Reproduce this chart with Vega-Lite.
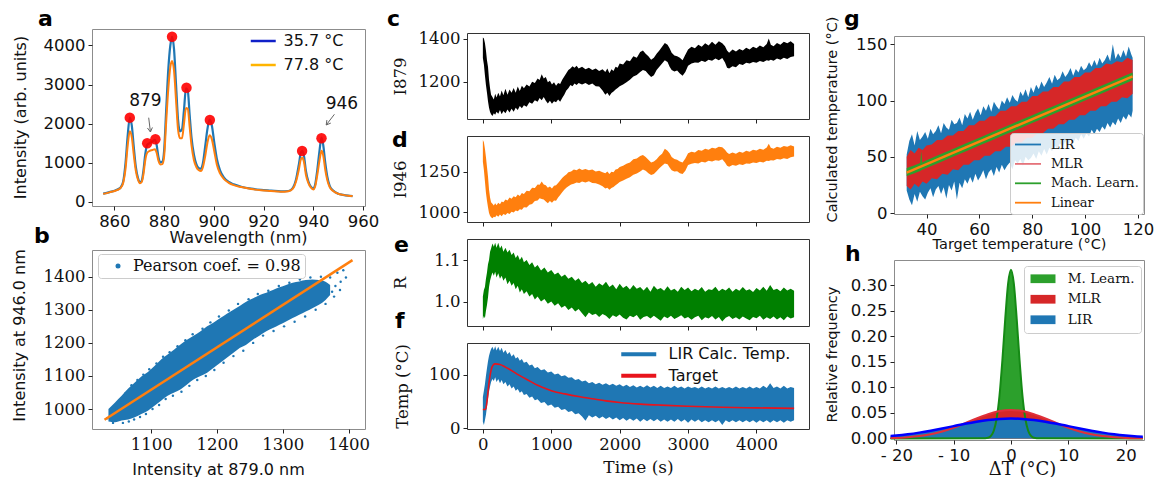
{
"$schema": "https://vega.github.io/schema/vega-lite/v6.json",
"background": "white",
"padding": {"left": 10, "top": 6, "right": 0, "bottom": 0},
"config": {
  "font": "DejaVu Sans",
  "numberFormat": "d",
  "view": {"stroke": "#8c8c8c"},
  "axis": {"grid": false, "domain": false, "tickColor": "#222", "tickSize": 4, "tickWidth": 1, "labelPadding": 3, "labelFontSize": 16.5, "labelColor": "#111", "titleColor": "#111", "titleFontWeight": "normal", "titleFontSize": 16, "labelFont": "DejaVu Sans", "titleFont": "DejaVu Sans", "labelOverlap": false, "labelFlush": false, "titleBaseline": "middle"},
  "legend": {"title": null, "orient": "none", "labelColor": "#111", "padding": 0, "labelLimit": 0},
  "title": {"font": "DejaVu Sans", "fontSize": 22, "fontWeight": "bold", "anchor": "start", "frame": "group", "offset": 0, "baseline": "alphabetic", "color": "#000"}
},
"datasets": {
"spacer": [{"k": 1}],
"aspec": [
{"wl":855.5,"b":200,"o":195},{"wl":858,"b":240,"o":235},{"wl":861,"b":300,"o":290},{"wl":862.5,"b":360,"o":350},{"wl":863.5,"b":500,"o":470},{"wl":864.5,"b":1000,"o":850},{"wl":865.3,"b":1650,"o":1400},{"wl":866.2,"b":2150,"o":1800},{"wl":867,"b":1950,"o":1650},{"wl":867.8,"b":1400,"o":1200},{"wl":868.6,"b":900,"o":800},{"wl":869.5,"b":600,"o":560},{"wl":870.3,"b":490,"o":470},{"wl":871,"b":530,"o":500},{"wl":871.7,"b":800,"o":700},{"wl":872.4,"b":1200,"o":1050},{"wl":873.2,"b":1450,"o":1250},{"wl":874.2,"b":1500,"o":1300},{"wl":875.3,"b":1540,"o":1320},{"wl":876.3,"b":1580,"o":1340},{"wl":877,"b":1450,"o":1250},{"wl":877.7,"b":1150,"o":1050},{"wl":878.5,"b":1000,"o":950},{"wl":879.3,"b":1020,"o":960},{"wl":880,"b":1300,"o":1150},{"wl":880.8,"b":2300,"o":2000},{"wl":881.7,"b":3400,"o":2900},{"wl":882.5,"b":4000,"o":3450},{"wl":883.2,"b":4220,"o":3600},{"wl":884,"b":3900,"o":3350},{"wl":884.8,"b":3000,"o":2600},{"wl":885.6,"b":2100,"o":1850},{"wl":886.4,"b":1800,"o":1620},{"wl":887.2,"b":1850,"o":1620},{"wl":888,"b":2350,"o":2000},{"wl":888.8,"b":2900,"o":2400},{"wl":889.5,"b":2850,"o":2380},{"wl":890.3,"b":2200,"o":1900},{"wl":891,"b":1650,"o":1450},{"wl":892,"b":1200,"o":1060},{"wl":893,"b":950,"o":880},{"wl":894,"b":850,"o":800},{"wl":894.8,"b":840,"o":780},{"wl":895.6,"b":980,"o":880},{"wl":896.5,"b":1400,"o":1150},{"wl":897.4,"b":1850,"o":1500},{"wl":898.3,"b":2100,"o":1700},{"wl":899.2,"b":1950,"o":1600},{"wl":900.2,"b":1500,"o":1280},{"wl":901.2,"b":1100,"o":950},{"wl":902.5,"b":800,"o":720},{"wl":904,"b":620,"o":580},{"wl":906,"b":500,"o":480},{"wl":908,"b":440,"o":420},{"wl":911,"b":380,"o":370},{"wl":915,"b":330,"o":320},{"wl":919,"b":300,"o":290},{"wl":923,"b":280,"o":270},{"wl":927,"b":260,"o":250},{"wl":930,"b":270,"o":265},{"wl":931.8,"b":350,"o":330},{"wl":933,"b":550,"o":500},{"wl":934.2,"b":950,"o":820},{"wl":935,"b":1250,"o":1080},{"wl":935.6,"b":1300,"o":1120},{"wl":936.3,"b":1150,"o":1000},{"wl":937,"b":800,"o":700},{"wl":938,"b":520,"o":480},{"wl":939,"b":380,"o":360},{"wl":940,"b":330,"o":310},{"wl":940.8,"b":450,"o":400},{"wl":941.6,"b":800,"o":680},{"wl":942.5,"b":1300,"o":1050},{"wl":943.3,"b":1640,"o":1300},{"wl":944,"b":1450,"o":1180},{"wl":944.8,"b":1000,"o":820},{"wl":945.6,"b":650,"o":560},{"wl":946.6,"b":400,"o":370},{"wl":948,"b":280,"o":270},{"wl":950,"b":200,"o":200},{"wl":952,"b":170,"o":170},{"wl":954,"b":150,"o":150},{"wl":955.8,"b":140,"o":140}
],
"adots": [{"wl":866.2,"I":2150},{"wl":873.2,"I":1492},{"wl":876.5,"I":1595},{"wl":883.2,"I":4226},{"wl":889.0,"I":2918},{"wl":898.4,"I":2090},{"wl":935.5,"I":1295},{"wl":943.3,"I":1620}],
"alabels": [{"wl":872.5,"I":2577,"t":"879"},{"wl":951.5,"I":2492,"t":"946"}],
"aarrows": [{"x":873.8,"y":2149,"x2":874.5,"y2":1782},{"x":874.5,"y":1782,"x2":875.3,"y2":1899},{"x":874.5,"y":1782,"x2":873.3,"y2":1885},{"x":948.5,"y":2236,"x2":945.2,"y2":1962},{"x":945.2,"y":1962,"x2":947.05,"y2":2011},{"x":945.2,"y":1962,"x2":945.47,"y2":2088}],
"bband": [
{"x":1035,"lo":962,"hi":1000},{"x":1045,"lo":960,"hi":1020},{"x":1055,"lo":965,"hi":1040},{"x":1065,"lo":968,"hi":1062},{"x":1075,"lo":975,"hi":1080},{"x":1085,"lo":985,"hi":1098},{"x":1095,"lo":995,"hi":1112},{"x":1105,"lo":1010,"hi":1130},{"x":1115,"lo":1025,"hi":1150},{"x":1125,"lo":1040,"hi":1165},{"x":1135,"lo":1050,"hi":1180},{"x":1145,"lo":1060,"hi":1196},{"x":1155,"lo":1075,"hi":1210},{"x":1165,"lo":1090,"hi":1222},{"x":1175,"lo":1100,"hi":1235},{"x":1185,"lo":1110,"hi":1250},{"x":1195,"lo":1125,"hi":1262},{"x":1205,"lo":1140,"hi":1275},{"x":1215,"lo":1155,"hi":1288},{"x":1225,"lo":1170,"hi":1300},{"x":1235,"lo":1185,"hi":1312},{"x":1245,"lo":1195,"hi":1325},{"x":1255,"lo":1210,"hi":1335},{"x":1265,"lo":1222,"hi":1345},{"x":1275,"lo":1235,"hi":1352},{"x":1285,"lo":1245,"hi":1360},{"x":1295,"lo":1255,"hi":1368},{"x":1305,"lo":1265,"hi":1375},{"x":1315,"lo":1275,"hi":1382},{"x":1325,"lo":1285,"hi":1386},{"x":1335,"lo":1295,"hi":1390},{"x":1345,"lo":1305,"hi":1392},{"x":1355,"lo":1315,"hi":1390},{"x":1365,"lo":1330,"hi":1385},{"x":1372,"lo":1345,"hi":1375}
],
"bpts": [
{"x":1033,"y":972},{"x":1038,"y":990},{"x":1042,"y":958},{"x":1047,"y":1003},{"x":1050,"y":975},{"x":1053,"y":1020},{"x":1057,"y":958},{"x":1061,"y":1048},{"x":1066,"y":962},{"x":1070,"y":1072},{"x":1074,"y":968},{"x":1079,"y":1088},{"x":1083,"y":976},{"x":1088,"y":1104},{"x":1092,"y":985},{"x":1097,"y":1120},{"x":1102,"y":1000},{"x":1108,"y":1138},{"x":1112,"y":1012},{"x":1118,"y":1158},{"x":1122,"y":1030},{"x":1128,"y":1172},{"x":1133,"y":1040},{"x":1140,"y":1190},{"x":1146,"y":1052},{"x":1152,"y":1208},{"x":1158,"y":1070},{"x":1163,"y":1226},{"x":1170,"y":1088},{"x":1178,"y":1243},{"x":1183,"y":1100},{"x":1190,"y":1262},{"x":1196,"y":1118},{"x":1203,"y":1280},{"x":1210,"y":1140},{"x":1218,"y":1298},{"x":1225,"y":1160},{"x":1232,"y":1318},{"x":1240,"y":1176},{"x":1248,"y":1332},{"x":1255,"y":1200},{"x":1262,"y":1348},{"x":1270,"y":1222},{"x":1278,"y":1358},{"x":1286,"y":1236},{"x":1294,"y":1372},{"x":1302,"y":1250},{"x":1310,"y":1382},{"x":1318,"y":1264},{"x":1326,"y":1392},{"x":1334,"y":1280},{"x":1342,"y":1398},{"x":1350,"y":1300},{"x":1358,"y":1400},{"x":1365,"y":1318},{"x":1372,"y":1398},{"x":1378,"y":1340},{"x":1383,"y":1412},{"x":1388,"y":1385},{"x":1392,"y":1420},{"x":1396,"y":1398},{"x":1387,"y":1360},{"x":1380,"y":1372},{"x":1375,"y":1355}
],
"bline": [{"x":1029,"y":967.7},{"x":1406,"y":1450.5}],
"cband": [
{"t":0,"lo":1310,"hi":1405},{"t":15,"lo":1280,"hi":1400},{"t":30,"lo":1230,"hi":1380},{"t":45,"lo":1185,"hi":1345},{"t":60,"lo":1150,"hi":1300},{"t":75,"lo":1110,"hi":1270},{"t":90,"lo":1080,"hi":1210},{"t":105,"lo":1060,"hi":1170},{"t":120,"lo":1050,"hi":1140},{"t":140,"lo":1042,"hi":1130},{"t":160,"lo":1055,"hi":1118},{"t":180,"lo":1048,"hi":1145},{"t":200,"lo":1062,"hi":1128},{"t":225,"lo":1052,"hi":1150},{"t":250,"lo":1070,"hi":1132},{"t":275,"lo":1050,"hi":1160},{"t":300,"lo":1065,"hi":1138},{"t":330,"lo":1055,"hi":1168},{"t":360,"lo":1072,"hi":1140},{"t":390,"lo":1058,"hi":1165},{"t":420,"lo":1075,"hi":1150},{"t":450,"lo":1062,"hi":1172},{"t":480,"lo":1080,"hi":1150},{"t":510,"lo":1070,"hi":1178},{"t":540,"lo":1088,"hi":1158},{"t":570,"lo":1078,"hi":1182},{"t":600,"lo":1092,"hi":1170},{"t":640,"lo":1085,"hi":1188},{"t":680,"lo":1105,"hi":1178},{"t":720,"lo":1098,"hi":1200},{"t":760,"lo":1115,"hi":1195},{"t":800,"lo":1108,"hi":1215},{"t":830,"lo":1125,"hi":1208},{"t":860,"lo":1115,"hi":1235},{"t":890,"lo":1130,"hi":1215},{"t":920,"lo":1112,"hi":1222},{"t":950,"lo":1100,"hi":1198},{"t":980,"lo":1112,"hi":1205},{"t":1010,"lo":1098,"hi":1188},{"t":1040,"lo":1110,"hi":1198},{"t":1070,"lo":1105,"hi":1182},{"t":1100,"lo":1118,"hi":1195},{"t":1130,"lo":1108,"hi":1190},{"t":1160,"lo":1125,"hi":1210},{"t":1190,"lo":1140,"hi":1225},{"t":1220,"lo":1160,"hi":1240},{"t":1250,"lo":1170,"hi":1255},{"t":1280,"lo":1185,"hi":1262},{"t":1310,"lo":1180,"hi":1272},{"t":1340,"lo":1192,"hi":1265},{"t":1370,"lo":1185,"hi":1275},{"t":1400,"lo":1195,"hi":1262},{"t":1450,"lo":1188,"hi":1270},{"t":1500,"lo":1195,"hi":1258},{"t":1550,"lo":1185,"hi":1265},{"t":1600,"lo":1192,"hi":1255},{"t":1650,"lo":1180,"hi":1262},{"t":1700,"lo":1178,"hi":1250},{"t":1750,"lo":1160,"hi":1258},{"t":1790,"lo":1140,"hi":1245},{"t":1820,"lo":1150,"hi":1262},{"t":1850,"lo":1135,"hi":1240},{"t":1880,"lo":1148,"hi":1258},{"t":1910,"lo":1155,"hi":1250},{"t":1940,"lo":1165,"hi":1270},{"t":1970,"lo":1172,"hi":1265},{"t":2000,"lo":1180,"hi":1285},{"t":2050,"lo":1188,"hi":1280},{"t":2100,"lo":1198,"hi":1300},{"t":2150,"lo":1210,"hi":1295},{"t":2200,"lo":1225,"hi":1318},{"t":2250,"lo":1232,"hi":1312},{"t":2300,"lo":1245,"hi":1338},{"t":2340,"lo":1255,"hi":1345},{"t":2380,"lo":1250,"hi":1330},{"t":2420,"lo":1235,"hi":1318},{"t":2460,"lo":1222,"hi":1302},{"t":2500,"lo":1230,"hi":1312},{"t":2540,"lo":1255,"hi":1330},{"t":2580,"lo":1270,"hi":1345},{"t":2620,"lo":1285,"hi":1362},{"t":2660,"lo":1300,"hi":1380},{"t":2700,"lo":1292,"hi":1372},{"t":2730,"lo":1270,"hi":1355},{"t":2760,"lo":1255,"hi":1335},{"t":2800,"lo":1248,"hi":1322},{"t":2840,"lo":1252,"hi":1318},{"t":2880,"lo":1238,"hi":1312},{"t":2920,"lo":1228,"hi":1300},{"t":2960,"lo":1245,"hi":1325},{"t":3000,"lo":1275,"hi":1350},{"t":3050,"lo":1285,"hi":1362},{"t":3100,"lo":1290,"hi":1356},{"t":3150,"lo":1288,"hi":1372},{"t":3200,"lo":1298,"hi":1362},{"t":3250,"lo":1292,"hi":1378},{"t":3300,"lo":1302,"hi":1368},{"t":3350,"lo":1298,"hi":1385},{"t":3400,"lo":1308,"hi":1372},{"t":3450,"lo":1300,"hi":1388},{"t":3500,"lo":1310,"hi":1378},{"t":3540,"lo":1290,"hi":1365},{"t":3570,"lo":1265,"hi":1345},{"t":3600,"lo":1262,"hi":1335},{"t":3650,"lo":1272,"hi":1350},{"t":3700,"lo":1268,"hi":1340},{"t":3750,"lo":1282,"hi":1352},{"t":3800,"lo":1278,"hi":1345},{"t":3850,"lo":1288,"hi":1358},{"t":3900,"lo":1285,"hi":1350},{"t":3950,"lo":1292,"hi":1362},{"t":4000,"lo":1288,"hi":1355},{"t":4050,"lo":1296,"hi":1368},{"t":4100,"lo":1292,"hi":1360},{"t":4150,"lo":1300,"hi":1375},{"t":4180,"lo":1298,"hi":1400},{"t":4210,"lo":1302,"hi":1372},{"t":4250,"lo":1298,"hi":1365},{"t":4300,"lo":1308,"hi":1380},{"t":4350,"lo":1302,"hi":1372},{"t":4400,"lo":1312,"hi":1385},{"t":4450,"lo":1306,"hi":1378},{"t":4500,"lo":1315,"hi":1388},{"t":4550,"lo":1318,"hi":1375}
],
"dband": [
{"t":0,"lo":1310,"hi":1445},{"t":15,"lo":1260,"hi":1430},{"t":30,"lo":1190,"hi":1390},{"t":45,"lo":1120,"hi":1340},{"t":60,"lo":1070,"hi":1280},{"t":75,"lo":1030,"hi":1220},{"t":90,"lo":995,"hi":1140},{"t":105,"lo":978,"hi":1090},{"t":120,"lo":968,"hi":1060},{"t":140,"lo":962,"hi":1052},{"t":160,"lo":972,"hi":1040},{"t":180,"lo":968,"hi":1055},{"t":200,"lo":980,"hi":1042},{"t":225,"lo":972,"hi":1058},{"t":250,"lo":985,"hi":1048},{"t":275,"lo":975,"hi":1065},{"t":300,"lo":988,"hi":1060},{"t":330,"lo":982,"hi":1078},{"t":360,"lo":995,"hi":1072},{"t":390,"lo":988,"hi":1090},{"t":420,"lo":1002,"hi":1082},{"t":450,"lo":998,"hi":1098},{"t":480,"lo":1010,"hi":1092},{"t":510,"lo":1005,"hi":1108},{"t":540,"lo":1018,"hi":1100},{"t":570,"lo":1015,"hi":1118},{"t":600,"lo":1030,"hi":1112},{"t":640,"lo":1028,"hi":1132},{"t":680,"lo":1045,"hi":1128},{"t":720,"lo":1050,"hi":1150},{"t":760,"lo":1068,"hi":1148},{"t":800,"lo":1072,"hi":1170},{"t":830,"lo":1085,"hi":1168},{"t":860,"lo":1080,"hi":1188},{"t":890,"lo":1078,"hi":1170},{"t":920,"lo":1065,"hi":1165},{"t":950,"lo":1055,"hi":1150},{"t":980,"lo":1068,"hi":1158},{"t":1010,"lo":1058,"hi":1145},{"t":1040,"lo":1072,"hi":1162},{"t":1070,"lo":1070,"hi":1165},{"t":1100,"lo":1090,"hi":1180},{"t":1130,"lo":1105,"hi":1195},{"t":1160,"lo":1122,"hi":1210},{"t":1190,"lo":1138,"hi":1222},{"t":1220,"lo":1150,"hi":1232},{"t":1250,"lo":1160,"hi":1245},{"t":1290,"lo":1170,"hi":1250},{"t":1330,"lo":1175,"hi":1262},{"t":1370,"lo":1182,"hi":1258},{"t":1410,"lo":1180,"hi":1268},{"t":1450,"lo":1188,"hi":1260},{"t":1500,"lo":1182,"hi":1265},{"t":1550,"lo":1190,"hi":1258},{"t":1600,"lo":1180,"hi":1262},{"t":1650,"lo":1178,"hi":1250},{"t":1700,"lo":1170,"hi":1255},{"t":1750,"lo":1160,"hi":1245},{"t":1790,"lo":1145,"hi":1240},{"t":1820,"lo":1150,"hi":1250},{"t":1850,"lo":1138,"hi":1235},{"t":1880,"lo":1148,"hi":1248},{"t":1910,"lo":1155,"hi":1245},{"t":1940,"lo":1165,"hi":1262},{"t":1970,"lo":1175,"hi":1265},{"t":2000,"lo":1185,"hi":1278},{"t":2050,"lo":1195,"hi":1285},{"t":2100,"lo":1205,"hi":1298},{"t":2150,"lo":1215,"hi":1305},{"t":2200,"lo":1230,"hi":1325},{"t":2250,"lo":1238,"hi":1330},{"t":2300,"lo":1250,"hi":1345},{"t":2340,"lo":1262,"hi":1352},{"t":2380,"lo":1255,"hi":1340},{"t":2420,"lo":1240,"hi":1322},{"t":2460,"lo":1228,"hi":1305},{"t":2500,"lo":1235,"hi":1312},{"t":2540,"lo":1252,"hi":1325},{"t":2580,"lo":1270,"hi":1345},{"t":2620,"lo":1285,"hi":1360},{"t":2660,"lo":1300,"hi":1390},{"t":2700,"lo":1295,"hi":1378},{"t":2730,"lo":1275,"hi":1362},{"t":2760,"lo":1258,"hi":1340},{"t":2800,"lo":1250,"hi":1328},{"t":2840,"lo":1252,"hi":1322},{"t":2880,"lo":1240,"hi":1312},{"t":2920,"lo":1235,"hi":1305},{"t":2960,"lo":1255,"hi":1330},{"t":3000,"lo":1290,"hi":1362},{"t":3050,"lo":1298,"hi":1372},{"t":3100,"lo":1302,"hi":1368},{"t":3150,"lo":1300,"hi":1382},{"t":3200,"lo":1310,"hi":1378},{"t":3250,"lo":1306,"hi":1390},{"t":3300,"lo":1316,"hi":1385},{"t":3350,"lo":1312,"hi":1396},{"t":3400,"lo":1320,"hi":1392},{"t":3450,"lo":1316,"hi":1402},{"t":3500,"lo":1325,"hi":1400},{"t":3540,"lo":1305,"hi":1385},{"t":3570,"lo":1285,"hi":1368},{"t":3600,"lo":1280,"hi":1358},{"t":3650,"lo":1290,"hi":1368},{"t":3700,"lo":1286,"hi":1360},{"t":3750,"lo":1295,"hi":1372},{"t":3800,"lo":1290,"hi":1366},{"t":3850,"lo":1300,"hi":1378},{"t":3900,"lo":1298,"hi":1372},{"t":3950,"lo":1306,"hi":1385},{"t":4000,"lo":1302,"hi":1380},{"t":4050,"lo":1310,"hi":1390},{"t":4100,"lo":1306,"hi":1385},{"t":4150,"lo":1316,"hi":1398},{"t":4180,"lo":1315,"hi":1422},{"t":4210,"lo":1320,"hi":1396},{"t":4250,"lo":1318,"hi":1390},{"t":4300,"lo":1328,"hi":1402},{"t":4350,"lo":1324,"hi":1396},{"t":4400,"lo":1332,"hi":1408},{"t":4450,"lo":1328,"hi":1402},{"t":4500,"lo":1338,"hi":1412},{"t":4550,"lo":1342,"hi":1405}
],
"eband": [
{"t":0,"lo":0.958,"hi":1.012},{"t":15,"lo":0.965,"hi":1.028},{"t":30,"lo":0.96,"hi":1.035},{"t":45,"lo":0.978,"hi":1.055},{"t":60,"lo":0.992,"hi":1.07},{"t":75,"lo":1.01,"hi":1.09},{"t":90,"lo":1.035,"hi":1.1},{"t":105,"lo":1.05,"hi":1.12},{"t":120,"lo":1.06,"hi":1.128},{"t":140,"lo":1.07,"hi":1.14},{"t":160,"lo":1.062,"hi":1.132},{"t":180,"lo":1.072,"hi":1.142},{"t":200,"lo":1.058,"hi":1.13},{"t":225,"lo":1.068,"hi":1.142},{"t":250,"lo":1.055,"hi":1.128},{"t":275,"lo":1.062,"hi":1.135},{"t":300,"lo":1.05,"hi":1.12},{"t":330,"lo":1.058,"hi":1.13},{"t":360,"lo":1.042,"hi":1.118},{"t":390,"lo":1.05,"hi":1.125},{"t":420,"lo":1.038,"hi":1.112},{"t":450,"lo":1.045,"hi":1.118},{"t":480,"lo":1.03,"hi":1.105},{"t":510,"lo":1.038,"hi":1.112},{"t":540,"lo":1.022,"hi":1.1},{"t":570,"lo":1.03,"hi":1.108},{"t":600,"lo":1.018,"hi":1.095},{"t":640,"lo":1.025,"hi":1.1},{"t":680,"lo":1.012,"hi":1.088},{"t":720,"lo":1.018,"hi":1.095},{"t":760,"lo":1.005,"hi":1.082},{"t":800,"lo":1.012,"hi":1.088},{"t":850,"lo":1.0,"hi":1.075},{"t":900,"lo":1.006,"hi":1.082},{"t":950,"lo":0.995,"hi":1.07},{"t":1000,"lo":1.0,"hi":1.076},{"t":1050,"lo":0.99,"hi":1.065},{"t":1100,"lo":0.996,"hi":1.07},{"t":1150,"lo":0.985,"hi":1.06},{"t":1200,"lo":0.99,"hi":1.065},{"t":1250,"lo":0.98,"hi":1.055},{"t":1300,"lo":0.986,"hi":1.06},{"t":1350,"lo":0.976,"hi":1.05},{"t":1400,"lo":0.982,"hi":1.056},{"t":1450,"lo":0.972,"hi":1.045},{"t":1500,"lo":0.962,"hi":1.05},{"t":1550,"lo":0.974,"hi":1.041},{"t":1600,"lo":0.968,"hi":1.047},{"t":1650,"lo":0.971,"hi":1.036},{"t":1700,"lo":0.963,"hi":1.044},{"t":1750,"lo":0.97,"hi":1.039},{"t":1800,"lo":0.966,"hi":1.048},{"t":1850,"lo":0.958,"hi":1.035},{"t":1900,"lo":0.967,"hi":1.041},{"t":1950,"lo":0.963,"hi":1.03},{"t":2000,"lo":0.969,"hi":1.043},{"t":2050,"lo":0.961,"hi":1.033},{"t":2100,"lo":0.957,"hi":1.038},{"t":2150,"lo":0.966,"hi":1.029},{"t":2200,"lo":0.962,"hi":1.04},{"t":2250,"lo":0.968,"hi":1.031},{"t":2300,"lo":0.956,"hi":1.035},{"t":2350,"lo":0.963,"hi":1.027},{"t":2400,"lo":0.965,"hi":1.036},{"t":2450,"lo":0.959,"hi":1.024},{"t":2500,"lo":0.966,"hi":1.038},{"t":2550,"lo":0.96,"hi":1.029},{"t":2600,"lo":0.954,"hi":1.033},{"t":2650,"lo":0.964,"hi":1.026},{"t":2700,"lo":0.96,"hi":1.037},{"t":2750,"lo":0.966,"hi":1.027},{"t":2800,"lo":0.958,"hi":1.031},{"t":2850,"lo":0.962,"hi":1.024},{"t":2900,"lo":0.967,"hi":1.036},{"t":2950,"lo":0.959,"hi":1.028},{"t":3000,"lo":0.963,"hi":1.034},{"t":3050,"lo":0.956,"hi":1.025},{"t":3100,"lo":0.962,"hi":1.031},{"t":3150,"lo":0.966,"hi":1.027},{"t":3200,"lo":0.955,"hi":1.035},{"t":3250,"lo":0.962,"hi":1.024},{"t":3300,"lo":0.959,"hi":1.03},{"t":3350,"lo":0.965,"hi":1.028},{"t":3400,"lo":0.957,"hi":1.036},{"t":3450,"lo":0.963,"hi":1.025},{"t":3500,"lo":0.952,"hi":1.031},{"t":3550,"lo":0.961,"hi":1.027},{"t":3600,"lo":0.965,"hi":1.034},{"t":3650,"lo":0.958,"hi":1.024},{"t":3700,"lo":0.962,"hi":1.031},{"t":3750,"lo":0.957,"hi":1.026},{"t":3800,"lo":0.964,"hi":1.035},{"t":3850,"lo":0.959,"hi":1.027},{"t":3900,"lo":0.955,"hi":1.03},{"t":3950,"lo":0.963,"hi":1.023},{"t":4000,"lo":0.96,"hi":1.033},{"t":4050,"lo":0.966,"hi":1.027},{"t":4100,"lo":0.956,"hi":1.036},{"t":4150,"lo":0.962,"hi":1.026},{"t":4200,"lo":0.958,"hi":1.04},{"t":4250,"lo":0.964,"hi":1.028},{"t":4300,"lo":0.957,"hi":1.031},{"t":4350,"lo":0.962,"hi":1.025},{"t":4400,"lo":0.955,"hi":1.034},{"t":4450,"lo":0.964,"hi":1.027},{"t":4500,"lo":0.959,"hi":1.031},{"t":4550,"lo":0.962,"hi":1.026}
],
"fband": [
{"t":0,"lo":12,"hi":58},{"t":15,"lo":6,"hi":70},{"t":30,"lo":15,"hi":82},{"t":45,"lo":25,"hi":98},{"t":60,"lo":40,"hi":112},{"t":75,"lo":55,"hi":125},{"t":90,"lo":68,"hi":135},{"t":105,"lo":78,"hi":142},{"t":120,"lo":86,"hi":148},{"t":140,"lo":92,"hi":152},{"t":160,"lo":88,"hi":146},{"t":180,"lo":95,"hi":153},{"t":200,"lo":86,"hi":145},{"t":225,"lo":92,"hi":152},{"t":250,"lo":84,"hi":144},{"t":275,"lo":90,"hi":150},{"t":300,"lo":82,"hi":141},{"t":330,"lo":86,"hi":146},{"t":360,"lo":78,"hi":138},{"t":390,"lo":82,"hi":142},{"t":420,"lo":74,"hi":134},{"t":450,"lo":78,"hi":138},{"t":480,"lo":70,"hi":130},{"t":510,"lo":73,"hi":133},{"t":540,"lo":66,"hi":126},{"t":570,"lo":69,"hi":129},{"t":600,"lo":62,"hi":122},{"t":640,"lo":64,"hi":124},{"t":680,"lo":57,"hi":117},{"t":720,"lo":59,"hi":119},{"t":760,"lo":52,"hi":112},{"t":800,"lo":54,"hi":114},{"t":850,"lo":47,"hi":108},{"t":900,"lo":49,"hi":110},{"t":950,"lo":42,"hi":104},{"t":1000,"lo":44,"hi":106},{"t":1050,"lo":38,"hi":100},{"t":1100,"lo":40,"hi":102},{"t":1150,"lo":34,"hi":97},{"t":1200,"lo":36,"hi":99},{"t":1250,"lo":30,"hi":94},{"t":1300,"lo":32,"hi":95},{"t":1350,"lo":26,"hi":90},{"t":1400,"lo":28,"hi":92},{"t":1450,"lo":22,"hi":87},{"t":1500,"lo":14,"hi":89},{"t":1550,"lo":24,"hi":84},{"t":1600,"lo":20,"hi":86},{"t":1650,"lo":23,"hi":82},{"t":1700,"lo":18,"hi":85},{"t":1750,"lo":22,"hi":81},{"t":1800,"lo":17,"hi":84},{"t":1850,"lo":21,"hi":80},{"t":1900,"lo":16,"hi":83},{"t":1950,"lo":20,"hi":79},{"t":2000,"lo":15,"hi":82},{"t":2050,"lo":19,"hi":78},{"t":2100,"lo":14,"hi":81},{"t":2150,"lo":18,"hi":77},{"t":2200,"lo":14,"hi":80},{"t":2250,"lo":18,"hi":76},{"t":2300,"lo":12,"hi":79},{"t":2350,"lo":17,"hi":76},{"t":2400,"lo":13,"hi":80},{"t":2450,"lo":17,"hi":76},{"t":2500,"lo":13,"hi":79},{"t":2550,"lo":17,"hi":75},{"t":2600,"lo":12,"hi":79},{"t":2650,"lo":16,"hi":75},{"t":2700,"lo":12,"hi":78},{"t":2750,"lo":16,"hi":75},{"t":2800,"lo":12,"hi":79},{"t":2850,"lo":17,"hi":75},{"t":2900,"lo":12,"hi":78},{"t":2950,"lo":16,"hi":74},{"t":3000,"lo":10,"hi":78},{"t":3050,"lo":16,"hi":75},{"t":3100,"lo":12,"hi":77},{"t":3150,"lo":16,"hi":74},{"t":3200,"lo":11,"hi":78},{"t":3250,"lo":15,"hi":74},{"t":3300,"lo":11,"hi":77},{"t":3350,"lo":15,"hi":74},{"t":3400,"lo":11,"hi":78},{"t":3450,"lo":15,"hi":74},{"t":3500,"lo":6,"hi":77},{"t":3550,"lo":15,"hi":74},{"t":3600,"lo":11,"hi":77},{"t":3650,"lo":15,"hi":74},{"t":3700,"lo":11,"hi":78},{"t":3750,"lo":15,"hi":74},{"t":3800,"lo":11,"hi":77},{"t":3850,"lo":15,"hi":74},{"t":3900,"lo":11,"hi":78},{"t":3950,"lo":15,"hi":74},{"t":4000,"lo":10,"hi":77},{"t":4050,"lo":15,"hi":74},{"t":4100,"lo":11,"hi":79},{"t":4150,"lo":15,"hi":75},{"t":4200,"lo":10,"hi":84},{"t":4250,"lo":15,"hi":75},{"t":4300,"lo":11,"hi":78},{"t":4350,"lo":15,"hi":74},{"t":4400,"lo":10,"hi":79},{"t":4450,"lo":15,"hi":74},{"t":4500,"lo":12,"hi":77},{"t":4550,"lo":15,"hi":75}
],
"ftarget": [
{"t":0,"v":35,"s":"Target"},{"t":40,"v":35,"s":"Target"},{"t":60,"v":50,"s":"Target"},{"t":90,"v":85,"s":"Target"},{"t":120,"v":108,"s":"Target"},{"t":150,"v":118,"s":"Target"},{"t":180,"v":120,"s":"Target"},{"t":250,"v":119,"s":"Target"},{"t":330,"v":114,"s":"Target"},{"t":400,"v":109,"s":"Target"},{"t":500,"v":101,"s":"Target"},{"t":600,"v":94,"s":"Target"},{"t":700,"v":87,"s":"Target"},{"t":800,"v":80,"s":"Target"},{"t":900,"v":75,"s":"Target"},{"t":1000,"v":70,"s":"Target"},{"t":1200,"v":64,"s":"Target"},{"t":1400,"v":59,"s":"Target"},{"t":1600,"v":55,"s":"Target"},{"t":1800,"v":51,"s":"Target"},{"t":2000,"v":48,"s":"Target"},{"t":2300,"v":45,"s":"Target"},{"t":2600,"v":43,"s":"Target"},{"t":3000,"v":41,"s":"Target"},{"t":3500,"v":39,"s":"Target"},{"t":4000,"v":38,"s":"Target"},{"t":4550,"v":37,"s":"Target"}
],
"gLIR": [
{"x":32.5,"lo":20,"hi":52},{"x":33.5,"lo":12,"hi":64},{"x":34.5,"lo":7,"hi":70},{"x":35.5,"lo":17,"hi":60},{"x":36.5,"lo":10,"hi":73},{"x":37.5,"lo":19,"hi":65},{"x":38.5,"lo":15,"hi":68},{"x":39.5,"lo":12,"hi":72},{"x":40.5,"lo":18,"hi":66},{"x":41.5,"lo":22,"hi":75},{"x":42.5,"lo":14,"hi":70},{"x":43.5,"lo":21,"hi":73},{"x":44.5,"lo":24,"hi":78},{"x":45.5,"lo":17,"hi":71},{"x":46.5,"lo":23,"hi":80},{"x":47.5,"lo":13,"hi":76},{"x":48.5,"lo":25,"hi":74},{"x":49.5,"lo":20,"hi":83},{"x":50.5,"lo":28,"hi":79},{"x":51.5,"lo":12,"hi":80},{"x":52.5,"lo":27,"hi":85},{"x":53.5,"lo":22,"hi":78},{"x":54.5,"lo":30,"hi":88},{"x":55.5,"lo":26,"hi":84},{"x":56.5,"lo":32,"hi":90},{"x":57.5,"lo":27,"hi":83},{"x":58.5,"lo":35,"hi":89},{"x":59.5,"lo":29,"hi":93},{"x":60.5,"lo":33,"hi":87},{"x":61.5,"lo":38,"hi":95},{"x":62.5,"lo":30,"hi":91},{"x":63.5,"lo":36,"hi":97},{"x":64.5,"lo":39,"hi":90},{"x":65.5,"lo":33,"hi":99},{"x":66.5,"lo":41,"hi":95},{"x":67.5,"lo":36,"hi":92},{"x":68.5,"lo":43,"hi":100},{"x":69.5,"lo":38,"hi":97},{"x":70.5,"lo":42,"hi":103},{"x":71.5,"lo":45,"hi":98},{"x":72.5,"lo":39,"hi":105},{"x":73.5,"lo":47,"hi":101},{"x":74.5,"lo":44,"hi":99},{"x":75.5,"lo":48,"hi":108},{"x":76.5,"lo":42,"hi":104},{"x":77.5,"lo":50,"hi":110},{"x":78.5,"lo":47,"hi":103},{"x":79.5,"lo":49,"hi":112},{"x":80.5,"lo":53,"hi":107},{"x":81.5,"lo":48,"hi":114},{"x":82.5,"lo":55,"hi":110},{"x":83.5,"lo":51,"hi":117},{"x":84.5,"lo":57,"hi":112},{"x":85.5,"lo":52,"hi":116},{"x":86.5,"lo":58,"hi":121},{"x":87.5,"lo":55,"hi":115},{"x":88.5,"lo":60,"hi":123},{"x":89.5,"lo":57,"hi":118},{"x":90.5,"lo":62,"hi":120},{"x":91.5,"lo":59,"hi":126},{"x":92.5,"lo":64,"hi":121},{"x":93.5,"lo":58,"hi":124},{"x":94.5,"lo":66,"hi":129},{"x":95.5,"lo":62,"hi":122},{"x":96.5,"lo":67,"hi":128},{"x":97.5,"lo":64,"hi":125},{"x":98.5,"lo":70,"hi":131},{"x":99.5,"lo":66,"hi":127},{"x":100.5,"lo":71,"hi":129},{"x":101.5,"lo":68,"hi":134},{"x":102.5,"lo":74,"hi":130},{"x":103.5,"lo":70,"hi":136},{"x":104.5,"lo":75,"hi":131},{"x":105.5,"lo":72,"hi":138},{"x":106.5,"lo":77,"hi":133},{"x":107.5,"lo":74,"hi":136},{"x":108.5,"lo":80,"hi":141},{"x":109.5,"lo":76,"hi":135},{"x":110.5,"lo":81,"hi":150},{"x":111.5,"lo":78,"hi":137},{"x":112.5,"lo":84,"hi":142},{"x":113.5,"lo":80,"hi":138},{"x":114.5,"lo":86,"hi":145},{"x":115.5,"lo":83,"hi":139},{"x":116.5,"lo":88,"hi":148},{"x":117.5,"lo":85,"hi":141},{"x":118,"lo":91,"hi":138}
],
"gMLR": [
{"x":32.5,"lo":24,"hi":50},{"x":34,"lo":21,"hi":56},{"x":35.5,"lo":26,"hi":53},{"x":37,"lo":23,"hi":58},{"x":38.5,"lo":28,"hi":56},{"x":40,"lo":26,"hi":60},{"x":42,"lo":31,"hi":61},{"x":44,"lo":30,"hi":65},{"x":46,"lo":35,"hi":65},{"x":48,"lo":34,"hi":69},{"x":50,"lo":39,"hi":69},{"x":52,"lo":38,"hi":73},{"x":54,"lo":43,"hi":73},{"x":56,"lo":43,"hi":78},{"x":58,"lo":47,"hi":78},{"x":60,"lo":47,"hi":82},{"x":62,"lo":51,"hi":82},{"x":64,"lo":51,"hi":86},{"x":66,"lo":55,"hi":86},{"x":68,"lo":55,"hi":91},{"x":70,"lo":59,"hi":91},{"x":72,"lo":59,"hi":95},{"x":74,"lo":63,"hi":95},{"x":76,"lo":63,"hi":99},{"x":78,"lo":67,"hi":99},{"x":80,"lo":67,"hi":104},{"x":82,"lo":71,"hi":104},{"x":84,"lo":71,"hi":108},{"x":86,"lo":75,"hi":108},{"x":88,"lo":75,"hi":112},{"x":90,"lo":79,"hi":112},{"x":92,"lo":79,"hi":117},{"x":94,"lo":83,"hi":117},{"x":96,"lo":83,"hi":121},{"x":98,"lo":87,"hi":121},{"x":100,"lo":87,"hi":125},{"x":102,"lo":91,"hi":125},{"x":104,"lo":91,"hi":129},{"x":106,"lo":95,"hi":129},{"x":108,"lo":95,"hi":133},{"x":110,"lo":99,"hi":132},{"x":112,"lo":99,"hi":135},{"x":114,"lo":103,"hi":134},{"x":116,"lo":102,"hi":138},{"x":118,"lo":106,"hi":136}
],
"gML": [
{"x":32.5,"lo":33,"hi":40},{"x":35,"lo":35,"hi":42},{"x":37.6,"lo":37.5,"hi":44.5},{"x":38,"lo":38,"hi":55},{"x":38.4,"lo":38.5,"hi":45},{"x":40,"lo":40,"hi":47},{"x":45,"lo":45,"hi":52},{"x":50,"lo":50,"hi":57},{"x":55,"lo":55,"hi":62},{"x":60,"lo":60,"hi":67},{"x":65,"lo":65,"hi":72},{"x":70,"lo":70,"hi":77},{"x":75,"lo":75,"hi":82},{"x":80,"lo":80,"hi":87},{"x":85,"lo":85,"hi":92},{"x":90,"lo":90,"hi":97},{"x":95,"lo":95,"hi":102},{"x":100,"lo":100,"hi":107},{"x":105,"lo":105,"hi":112},{"x":110,"lo":110,"hi":117},{"x":115,"lo":115,"hi":122},{"x":118,"lo":118,"hi":125}
],
"gLinear": [{"x":32.5,"y":36,"s":"Linear"},{"x":118,"y":121.5,"s":"Linear"}],
"hML": [
{"x":-21,"y":0,"s":"M. Learn."},{"x":-5,"y":0.0002,"s":"M. Learn."},{"x":-4,"y":0.0014,"s":"M. Learn."},{"x":-3.5,"y":0.005,"s":"M. Learn."},{"x":-3,"y":0.0152,"s":"M. Learn."},{"x":-2.5,"y":0.039,"s":"M. Learn."},{"x":-2,"y":0.084,"s":"M. Learn."},{"x":-1.5,"y":0.153,"s":"M. Learn."},{"x":-1,"y":0.234,"s":"M. Learn."},{"x":-0.5,"y":0.303,"s":"M. Learn."},{"x":0,"y":0.33,"s":"M. Learn."},{"x":0.5,"y":0.303,"s":"M. Learn."},{"x":1,"y":0.234,"s":"M. Learn."},{"x":1.5,"y":0.153,"s":"M. Learn."},{"x":2,"y":0.084,"s":"M. Learn."},{"x":2.5,"y":0.039,"s":"M. Learn."},{"x":3,"y":0.0152,"s":"M. Learn."},{"x":3.5,"y":0.005,"s":"M. Learn."},{"x":4,"y":0.0014,"s":"M. Learn."},{"x":5,"y":0.0002,"s":"M. Learn."},{"x":23,"y":0,"s":"M. Learn."}
],
"hMLR": [
{"x":-21,"y":0.0008,"s":"MLR"},{"x":-20,"y":0.0011,"s":"MLR"},{"x":-18,"y":0.0024,"s":"MLR"},{"x":-16,"y":0.0046,"s":"MLR"},{"x":-14,"y":0.0083,"s":"MLR"},{"x":-12,"y":0.0137,"s":"MLR"},{"x":-10,"y":0.021,"s":"MLR"},{"x":-8,"y":0.0298,"s":"MLR"},{"x":-6,"y":0.0392,"s":"MLR"},{"x":-4,"y":0.0476,"s":"MLR"},{"x":-2,"y":0.0535,"s":"MLR"},{"x":0,"y":0.0556,"s":"MLR"},{"x":2,"y":0.0535,"s":"MLR"},{"x":4,"y":0.0476,"s":"MLR"},{"x":6,"y":0.0392,"s":"MLR"},{"x":8,"y":0.0298,"s":"MLR"},{"x":10,"y":0.021,"s":"MLR"},{"x":12,"y":0.0137,"s":"MLR"},{"x":14,"y":0.0083,"s":"MLR"},{"x":16,"y":0.0046,"s":"MLR"},{"x":18,"y":0.0024,"s":"MLR"},{"x":20,"y":0.0011,"s":"MLR"},{"x":22,"y":0.0005,"s":"MLR"},{"x":23,"y":0.0003,"s":"MLR"}
],
"hLIR": [
{"x":-21,"y":0.0047,"s":"LIR"},{"x":-20,"y":0.0057,"s":"LIR"},{"x":-18,"y":0.0082,"s":"LIR"},{"x":-16,"y":0.0114,"s":"LIR"},{"x":-14,"y":0.0152,"s":"LIR"},{"x":-12,"y":0.0195,"s":"LIR"},{"x":-10,"y":0.0241,"s":"LIR"},{"x":-8,"y":0.0287,"s":"LIR"},{"x":-6,"y":0.0328,"s":"LIR"},{"x":-4,"y":0.0361,"s":"LIR"},{"x":-2,"y":0.0383,"s":"LIR"},{"x":0,"y":0.039,"s":"LIR"},{"x":2,"y":0.0383,"s":"LIR"},{"x":4,"y":0.0361,"s":"LIR"},{"x":6,"y":0.0328,"s":"LIR"},{"x":8,"y":0.0287,"s":"LIR"},{"x":10,"y":0.0241,"s":"LIR"},{"x":12,"y":0.0195,"s":"LIR"},{"x":14,"y":0.0152,"s":"LIR"},{"x":16,"y":0.0114,"s":"LIR"},{"x":18,"y":0.0082,"s":"LIR"},{"x":20,"y":0.0057,"s":"LIR"},{"x":22,"y":0.0038,"s":"LIR"},{"x":23,"y":0.0031,"s":"LIR"}
]
},
"spacing": 6,
"resolve": {"scale": {"color": "independent", "stroke": "independent", "fill": "independent"}, "legend": {"color": "independent", "stroke": "independent", "fill": "independent"}},
"hconcat": [
{
 "spacing": 0,
 "bounds": "full",
 "resolve": {"scale": {"color": "independent", "stroke": "independent", "fill": "independent"}, "legend": {"color": "independent", "stroke": "independent", "fill": "independent"}},
 "vconcat": [
  {"width": 1, "height": 1, "view": {"stroke": null}, "data": {"name": "spacer"}, "mark": {"type": "point", "size": 1, "filled": true, "strokeWidth": 0, "opacity": 0}, "encoding": {}},
  {
 "resolve": {"scale": {"color": "independent", "stroke": "independent", "fill": "independent"}, "legend": {"color": "independent", "stroke": "independent", "fill": "independent"}},
 "vconcat": [
  {
   "width": 273, "height": 177,
   "title": {"text": "a", "dx": -54, "dy": 6},
   "encoding": {
     "x": {"type": "quantitative", "scale": {"domain": [851, 960.8], "nice": false, "zero": false}, "axis": {"values": [860,880,900,920,940,960], "title": "Wavelength (nm)", "titleX": 146, "titleY": 31}},
     "y": {"type": "quantitative", "scale": {"domain": [-115, 4423], "nice": false}, "axis": {"values": [0,1000,2000,3000,4000], "title": "Intensity (arb. units)", "titleX": -72, "titleY": 88}}
   },
   "layer": [
     {"data": {"name": "aspec"}, "mark": {"type": "line", "color": "#1f77b4", "strokeWidth": 2.2, "interpolate": "monotone"}, "encoding": {"x": {"field": "wl", "type": "quantitative"}, "y": {"field": "b", "type": "quantitative"}}},
     {"data": {"name": "aspec"}, "mark": {"type": "line", "color": "#ff7f0e", "strokeWidth": 2, "interpolate": "monotone"}, "encoding": {"x": {"field": "wl", "type": "quantitative"}, "y": {"field": "o", "type": "quantitative"}}},
     {"data": {"values": []}, "mark": {"type": "line"}, "encoding": {"x": {"field": "wl", "type": "quantitative"}, "y": {"field": "b", "type": "quantitative"}, "stroke": {"field": "T", "type": "nominal", "scale": {"domain": ["35.7 °C", "77.8 °C"], "range": ["#1020c8", "#ffb400"]}, "legend": {"legendX": 157, "legendY": 4, "symbolType": "M-2,0H2", "symbolSize": 156, "symbolStrokeWidth": 2.5, "symbolOffset": 6.25, "labelFont": "DejaVu Sans", "labelFontSize": 16, "labelOffset": 12.25, "rowPadding": 8}}}},
     {"data": {"name": "adots"}, "mark": {"type": "circle", "color": "#ff0000", "opacity": 0.9, "size": 110}, "encoding": {"x": {"field": "wl", "type": "quantitative"}, "y": {"field": "I", "type": "quantitative"}}},
     {"data": {"name": "aarrows"}, "mark": {"type": "rule", "color": "#666", "strokeWidth": 1}, "encoding": {"x": {"field": "x", "type": "quantitative"}, "y": {"field": "y", "type": "quantitative"}, "x2": {"field": "x2"}, "y2": {"field": "y2"}}},
     {"data": {"name": "alabels"}, "mark": {"type": "text", "font": "DejaVu Sans", "fontSize": 17, "color": "#111", "baseline": "middle", "align": "center"}, "encoding": {"x": {"field": "wl", "type": "quantitative"}, "y": {"field": "I", "type": "quantitative"}, "text": {"field": "t"}}}
   ]
  },
  {
   "width": 273, "height": 179,
   "title": {"text": "b", "dx": -58, "dy": 3.5},
   "encoding": {
     "x": {"type": "quantitative", "scale": {"domain": [1010, 1425], "nice": false, "zero": false}, "axis": {"values": [1100,1200,1300,1400], "title": "Intensity at 879.0 nm", "titleX": 126, "titleY": 40, "labelFont": "DejaVu Serif"}},
     "y": {"type": "quantitative", "scale": {"domain": [939.5, 1481], "nice": false, "zero": false}, "axis": {"values": [1000,1100,1200,1300,1400], "title": "Intensity at 946.0 nm", "titleX": -73, "titleY": 85, "labelFont": "DejaVu Serif"}}
   },
   "layer": [
     {"data": {"name": "bband"}, "mark": {"type": "area", "color": "#1f77b4", "interpolate": "monotone"}, "encoding": {"x": {"field": "x", "type": "quantitative"}, "y": {"field": "lo", "type": "quantitative"}, "y2": {"field": "hi"}}},
     {"data": {"name": "bpts"}, "mark": {"type": "circle", "size": 6, "opacity": 1}, "encoding": {"x": {"field": "x", "type": "quantitative"}, "y": {"field": "y", "type": "quantitative"}, "color": {"datum": "Pearson coef. = 0.98", "type": "nominal", "scale": {"range": ["#1f77b4"]}, "legend": {"legendX": 6, "legendY": 4, "symbolType": "circle", "symbolSize": 25, "labelFont": "DejaVu Serif", "labelFontSize": 16, "labelOffset": 7, "symbolOffset": 8, "padding": 4, "fillColor": "white", "strokeColor": "#cccccc", "cornerRadius": 3}}}},
     {"data": {"name": "bline"}, "mark": {"type": "line", "color": "#ff7f0e", "strokeWidth": 2.5}, "encoding": {"x": {"field": "x", "type": "quantitative"}, "y": {"field": "y", "type": "quantitative"}}}
   ]
  }
 ],
 "spacing": 44,
 "bounds": "flush"
  }
 ]
},
{
 "spacing": 0,
 "bounds": "full",
 "resolve": {"scale": {"color": "independent", "stroke": "independent", "fill": "independent"}, "legend": {"color": "independent", "stroke": "independent", "fill": "independent"}},
 "vconcat": [
  {"width": 1, "height": 1, "view": {"stroke": null}, "data": {"name": "spacer"}, "mark": {"type": "point", "size": 1, "filled": true, "strokeWidth": 0, "opacity": 0}, "encoding": {}},
  {
 "resolve": {"scale": {"color": "independent", "stroke": "independent", "fill": "independent"}, "legend": {"color": "independent", "stroke": "independent", "fill": "independent"}},
 "vconcat": [
  {
   "width": 342, "height": 86,
   "title": {"text": "c", "dx": -80, "dy": 4},
   "view": {"stroke": "#333"},
   "data": {"name": "cband"},
   "mark": {"type": "area", "color": "black"},
   "encoding": {
     "x": {"field": "t", "type": "quantitative", "scale": {"domain": [-232, 4768], "nice": false, "zero": false}, "axis": {"values": [0,1000,2000,3000,4000], "labels": false, "title": null}},
     "y": {"field": "lo", "type": "quantitative", "scale": {"domain": [1028, 1426], "nice": false, "zero": false}, "axis": {"values": [1200,1400], "title": "I879", "titleX": -67, "labelFont": "DejaVu Serif", "titleFont": "DejaVu Serif", "titleFontSize": 16.5}},
     "y2": {"field": "hi"}
   }
  },
  {
   "width": 342, "height": 86,
   "title": {"text": "d", "dx": -75, "dy": 20},
   "view": {"stroke": "#333"},
   "data": {"name": "dband"},
   "mark": {"type": "area", "color": "#ff7f0e"},
   "encoding": {
     "x": {"field": "t", "type": "quantitative", "scale": {"domain": [-232, 4768], "nice": false, "zero": false}, "axis": {"values": [0,1000,2000,3000,4000], "labels": false, "title": null}},
     "y": {"field": "lo", "type": "quantitative", "scale": {"domain": [939, 1469], "nice": false, "zero": false}, "axis": {"values": [1000,1250], "title": "I946", "titleX": -67, "labelFont": "DejaVu Serif", "titleFont": "DejaVu Serif", "titleFontSize": 16.5}},
     "y2": {"field": "hi"}
   }
  },
  {
   "width": 342, "height": 87,
   "title": {"text": "e", "dx": -73, "dy": 22},
   "view": {"stroke": "#333"},
   "data": {"name": "eband"},
   "mark": {"type": "area", "color": "#008000"},
   "encoding": {
     "x": {"field": "t", "type": "quantitative", "scale": {"domain": [-232, 4768], "nice": false, "zero": false}, "axis": {"values": [0,1000,2000,3000,4000], "labels": false, "title": null}},
     "y": {"field": "lo", "type": "quantitative", "scale": {"domain": [0.9412, 1.1508], "nice": false, "zero": false}, "axis": {"values": [1.0,1.1], "format": ".1f", "title": "R", "titleX": -67, "labelFont": "DejaVu Serif", "titleFont": "DejaVu Serif", "titleFontSize": 16.5}},
     "y2": {"field": "hi"}
   }
  },
  {
   "width": 342, "height": 86,
   "title": {"text": "f", "dx": -72, "dy": 19},
   "view": {"stroke": "#333"},
   "encoding": {
     "x": {"field": "t", "type": "quantitative", "scale": {"domain": [-232, 4768], "nice": false, "zero": false}, "axis": {"values": [0,1000,2000,3000,4000], "title": "Time (s)", "titleY": 38, "labelFont": "DejaVu Serif", "titleFont": "DejaVu Serif", "titleFontSize": 17}}
   },
   "layer": [
     {"data": {"name": "fband"}, "mark": {"type": "area", "color": "#1f77b4"}, "encoding": {"y": {"field": "lo", "type": "quantitative", "scale": {"domain": [-1.5, 159], "nice": false, "zero": false}, "axis": {"values": [0,100], "title": "Temp (°C)", "titleX": -65, "labelFont": "DejaVu Serif", "titleFont": "DejaVu Serif", "titleFontSize": 16.5}}, "y2": {"field": "hi"}}},
     {"data": {"name": "ftarget"}, "mark": {"type": "line", "strokeWidth": 1.6, "interpolate": "monotone"}, "encoding": {"y": {"field": "v", "type": "quantitative"}, "stroke": {"field": "s", "type": "nominal", "scale": {"domain": ["LIR Calc. Temp.", "Target"], "range": ["#1f77b4", "#e8141c"]}, "legend": {"legendX": 127, "legendY": -24.75, "padding": 25, "symbolType": "M-2,0H2", "symbolSize": 306, "symbolStrokeWidth": 4, "symbolOffset": 8.75, "labelFont": "DejaVu Sans", "labelFontSize": 16, "labelOffset": 18.75, "rowPadding": 2.5}}}}
   ]
  }
 ],
 "spacing": 17,
 "bounds": "flush"
  }
 ]
},
{
 "spacing": 0,
 "bounds": "full",
 "resolve": {"scale": {"color": "independent", "stroke": "independent", "fill": "independent"}, "legend": {"color": "independent", "stroke": "independent", "fill": "independent"}},
 "vconcat": [
  {"width": 1, "height": 1, "view": {"stroke": null}, "data": {"name": "spacer"}, "mark": {"type": "point", "size": 1, "filled": true, "strokeWidth": 0, "opacity": 0}, "encoding": {}},
  {
 "resolve": {"scale": {"color": "independent", "stroke": "independent", "fill": "independent"}, "legend": {"color": "independent", "stroke": "independent", "fill": "independent"}},
 "vconcat": [
  {
   "width": 250, "height": 178,
   "title": {"text": "g", "dx": -50, "dy": 19},
   "encoding": {
     "x": {"field": "x", "type": "quantitative", "scale": {"domain": [27.7, 122.3], "nice": false, "zero": false}, "axis": {"values": [40,60,80,100,120], "title": "Target temperature (°C)", "titleY": 30, "titleFontSize": 14.5}}
   },
   "layer": [
     {"data": {"name": "gLIR"}, "mark": {"type": "area", "color": "#1f77b4"}, "encoding": {"y": {"field": "lo", "type": "quantitative", "scale": {"domain": [-0.8, 157.4], "nice": false, "zero": false}, "axis": {"values": [0,25,50,75,100,125,150], "title": "Calculated temperature (°C)", "titleX": -62, "titleY": 83, "titleFontSize": 14.5}}, "y2": {"field": "hi"}}},
     {"data": {"name": "gMLR"}, "mark": {"type": "area", "color": "#d62728"}, "encoding": {"y": {"field": "lo", "type": "quantitative"}, "y2": {"field": "hi"}}},
     {"data": {"name": "gML"}, "mark": {"type": "area", "color": "#2ca02c"}, "encoding": {"y": {"field": "lo", "type": "quantitative"}, "y2": {"field": "hi"}}},
     {"data": {"name": "gLinear"}, "mark": {"type": "line", "strokeWidth": 2.5}, "encoding": {"y": {"field": "y", "type": "quantitative"}, "stroke": {"field": "s", "type": "nominal", "scale": {"domain": ["LIR", "MLR", "Mach. Learn.", "Linear"], "range": ["#1f77b4", "#e5737a", "#2ca02c", "#ff7f0e"]}, "legend": {"legendX": 116, "legendY": 97, "padding": 4, "symbolType": "M-2,0H2", "symbolSize": 169, "symbolStrokeWidth": 1.8, "symbolOffset": 6.5, "labelFont": "DejaVu Serif", "labelFontSize": 13, "labelOffset": 15.5, "rowPadding": 4.4, "fillColor": "rgba(255,255,255,0.85)", "strokeColor": "#cccccc", "cornerRadius": 3}}}}
   ]
  },
  {
   "width": 250, "height": 180,
   "title": {"text": "h", "dx": -49, "dy": 10},
   "encoding": {
     "x": {"field": "x", "type": "quantitative", "scale": {"domain": [-20.4, 23.2], "nice": false, "zero": false}, "axis": {"values": [-20,-10,0,10,20], "labelExpr": "datum.value < 0 ? '- ' + abs(datum.value) : datum.label", "title": "ΔT (°C)", "titleX": 128, "titleY": 29, "titleFont": "DejaVu Serif", "titleFontSize": 18}},
     "y": {"field": "y", "type": "quantitative", "scale": {"domain": [-0.003, 0.349], "nice": false, "zero": false}, "axis": {"values": [0,0.05,0.1,0.15,0.2,0.25,0.3], "format": ".2f", "title": "Relative frequency", "titleX": -62, "titleY": 94, "titleFontSize": 14.5}}
   },
   "layer": [
     {"data": {"name": "hML"}, "mark": {"type": "area", "interpolate": "monotone"}, "encoding": {"fill": {"field": "s", "type": "nominal", "scale": {"domain": ["M. Learn.", "MLR", "LIR"], "range": ["#2ca02c", "#d62728", "#1f77b4"]}, "legend": {"legendX": 130, "legendY": 6, "padding": 6, "symbolType": "M-2,-0.7H2V0.7H-2Z", "symbolSize": 156, "symbolStrokeWidth": 0, "symbolOffset": 6.25, "labelFont": "DejaVu Serif", "labelFontSize": 13.5, "labelOffset": 18, "rowPadding": 5.5, "fillColor": "rgba(255,255,255,0.85)", "strokeColor": "#cccccc", "cornerRadius": 3}}}},
     {"data": {"name": "hMLR"}, "mark": {"type": "area", "interpolate": "monotone"}, "encoding": {"fill": {"field": "s", "type": "nominal"}}},
     {"data": {"name": "hLIR"}, "mark": {"type": "area", "interpolate": "monotone"}, "encoding": {"fill": {"field": "s", "type": "nominal"}}},
     {"data": {"name": "hML"}, "mark": {"type": "line", "color": "#158a15", "strokeWidth": 2, "interpolate": "monotone"}, "encoding": {}},
     {"data": {"name": "hMLR"}, "mark": {"type": "line", "color": "#e0303a", "strokeWidth": 2, "interpolate": "monotone"}, "encoding": {}},
     {"data": {"name": "hLIR"}, "mark": {"type": "line", "color": "#0000ff", "strokeWidth": 2.5, "interpolate": "monotone"}, "encoding": {}}
   ]
  }
 ],
 "spacing": 46,
 "bounds": "flush"
  }
 ]
}
]
}
